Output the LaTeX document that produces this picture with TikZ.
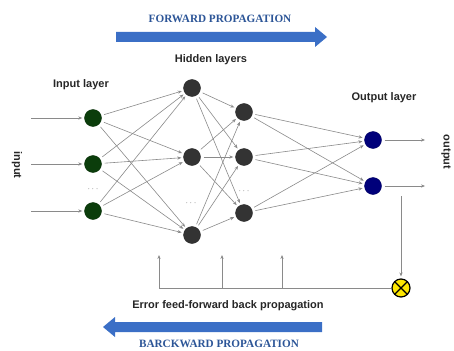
\documentclass[tikz,border=0pt]{standalone}
\usepackage{fontspec}
\setmainfont{Liberation Sans}
\newfontfamily\titlefont{Liberation Serif}
\usetikzlibrary{arrows.meta}
\definecolor{inode}{HTML}{0B3D0B}
\definecolor{hnode}{HTML}{333333}
\definecolor{onode}{HTML}{00007A}
\definecolor{bandblue}{HTML}{3B6FC6}
\definecolor{titleblue}{HTML}{2C5597}
\definecolor{wire}{HTML}{8A8A8A}
\tikzset{
  neuron/.style={circle, minimum size=17pt, inner sep=0pt},
  innode/.style={neuron, fill=inode, draw=inode!80!black, line width=0.4pt},
  hidnode/.style={neuron, fill=hnode, draw=hnode!80!black, line width=0.4pt},
  outnode/.style={neuron, fill=onode, draw=onode!80!black, line width=0.4pt},
  link/.style={draw=wire, line width=0.6pt, -{Stealth[length=4pt,width=3.2pt]}, shorten >=2pt, shorten <=3pt},
  plain/.style={draw=wire, line width=0.7pt},
  label/.style={font=\bfseries\fontsize{11}{13}\selectfont, text=black!85},
  ttl/.style={font=\titlefont\bfseries\fontsize{11.2}{13}\selectfont, text=titleblue},
  dots/.style={text=black!60, font=\fontsize{9}{10}\selectfont}
}
\begin{document}
\begin{tikzpicture}[x=1pt, y=-1pt]
\useasboundingbox (0,0) rectangle (454,350);

% layer nodes
\node[innode] (i1) at (93,118) {};
\node[innode] (i2) at (93,164) {};
\node[innode] (i3) at (93,211) {};
\node[hidnode] (a1) at (192,88) {};
\node[hidnode] (a2) at (192,157) {};
\node[hidnode] (a3) at (192,235) {};
\node[hidnode] (b1) at (244,112) {};
\node[hidnode] (b2) at (244,157) {};
\node[hidnode] (b3) at (244,213) {};
\node[outnode] (o1) at (373,140) {};
\node[outnode] (o2) at (373,186) {};

% ellipsis markers
\node[dots] (d1) at (93,189) {$\cdots$};
\node[dots] (d2) at (191,203) {$\cdots$};
\node[dots] (d3) at (244,191) {$\cdots$};

% full connections between layers
\foreach \s in {i1,i2,i3}
  \foreach \t in {a1,a2,a3}
    \draw[link] (\s) -- (\t);
\foreach \s in {a1,a2,a3}
  \foreach \t in {b1,b2,b3}
    \draw[link] (\s) -- (\t);
\foreach \s in {b1,b2,b3}
  \foreach \t in {o1,o2}
    \draw[link] (\s) -- (\t);

% inputs and outputs
\coordinate (x1) at (31,118);
\coordinate (x2) at (31,164);
\coordinate (x3) at (31,211);
\draw[link, shorten <=0pt] (x1) -- (i1);
\draw[link, shorten <=0pt] (x2) -- (i2);
\draw[link, shorten <=0pt] (x3) -- (i3);
\coordinate (y1) at (425,140);
\coordinate (y2) at (425,186);
\draw[link, shorten >=0pt] (o1) -- (y1);
\draw[link, shorten >=0pt] (o2) -- (y2);

\node[label, rotate=-90] (inlbl) at (17,165) {input};
\node[label, rotate=-90] (outlbl) at (446,152) {output};

% layer captions
\node[label] (lin) at (81,85) {Input layer};
\node[label] (lhid) at (211,60) {Hidden layers};
\node[label] (lout) at (384,98) {Output layer};

% error feedback loop
\node[circle, minimum size=18pt, inner sep=0pt, fill=yellow!90!orange, draw=black, line width=1.2pt] (err) at (401,288) {};
\draw[line width=1.2pt] ([shift={(-45:9pt)}]err.center) -- ([shift={(135:9pt)}]err.center);
\draw[line width=1.2pt] ([shift={(45:9pt)}]err.center) -- ([shift={(-135:9pt)}]err.center);
\coordinate (etop) at (401,196);
\draw[link, shorten <=0pt] (etop) -- (err);
\coordinate (f1) at (159,288);
\coordinate (f2) at (222,288);
\coordinate (f3) at (282,288);
\coordinate (g1) at (159,255);
\coordinate (g2) at (222,255);
\coordinate (g3) at (282,255);
\draw[plain] (err) -- (f1);
\draw[link, shorten <=0pt, shorten >=0pt] (f1) -- (g1);
\draw[link, shorten <=0pt, shorten >=0pt] (f2) -- (g2);
\draw[link, shorten <=0pt, shorten >=0pt] (f3) -- (g3);
\node[label] (lerr) at (228,306) {Error feed-forward back propagation};

% direction bands
\fill[bandblue] (116,32) -- (315,32) -- (315,27) -- (327,37) -- (315,47) -- (315,42) -- (116,42) -- cycle;
\node[ttl] (tf) at (220,19) {FORWARD PROPAGATION};
\fill[bandblue] (322,322) -- (115,322) -- (115,317) -- (103,327) -- (115,337) -- (115,332) -- (322,332) -- cycle;
\node[ttl] (tb) at (219,344) {BARCKWARD PROPAGATION};
\end{tikzpicture}
\end{document}
